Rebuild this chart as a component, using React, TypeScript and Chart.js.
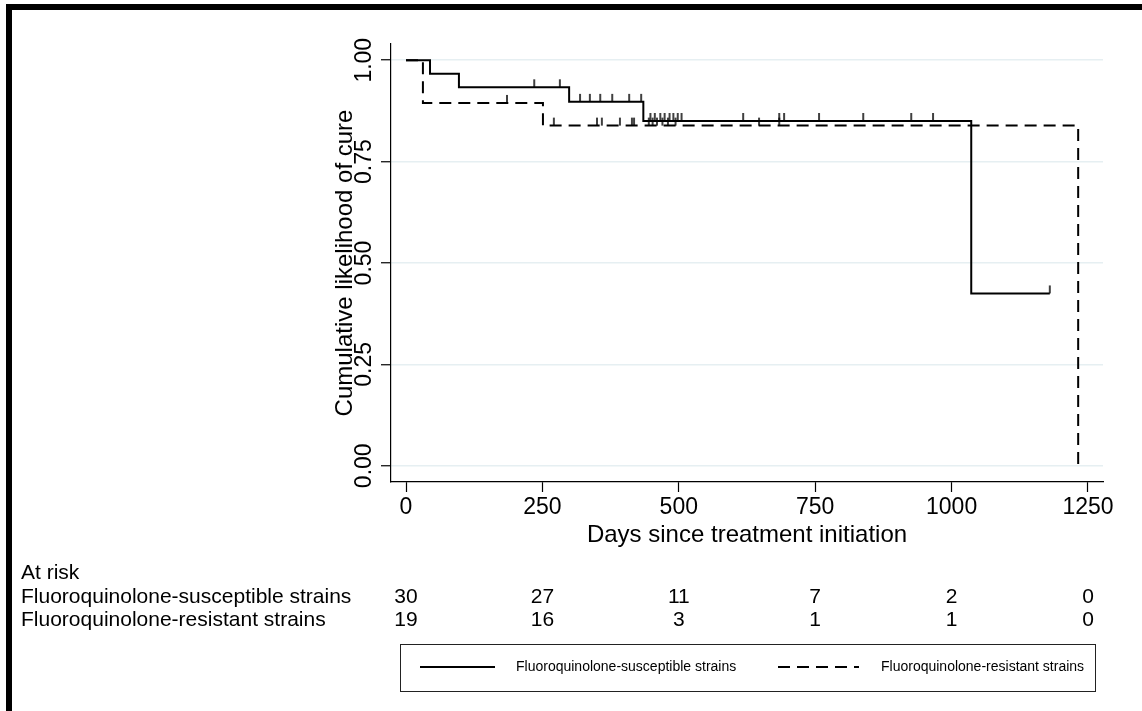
import React, { useEffect, useRef } from "react";
import { Chart, registerables } from "chart.js";

Chart.register(...registerables);

const FONT = "'Liberation Sans', Arial, Helvetica, sans-serif";

// axis ticks
const xTicks = [0, 250, 500, 750, 1000, 1250];
const yTicks = [0, 0.25, 0.5, 0.75, 1];
const yTickLabels = ["0.00", "0.25", "0.50", "0.75", "1.00"];

// Kaplan-Meier steps: Fluoroquinolone-susceptible strains
const susTimes = [0, 44, 97, 299, 435, 1036, 1180];
const susSurv = [1, 0.9667, 0.9333, 0.8974, 0.8502, 0.4251, 0.4251];

// Kaplan-Meier steps: Fluoroquinolone-resistant strains
const resTimes = [0, 31, 251, 1232, 1232];
const resSurv = [1, 0.8947, 0.8388, 0.8388, 0];

// censoring marks
const susCensorTimes = [235, 282, 319, 337, 356, 378, 409, 431, 448, 456, 466, 474, 483, 490, 498, 505, 618, 684, 693, 757, 838, 926, 966, 1180];
const susCensorSurv = [0.9333, 0.9333, 0.8974, 0.8974, 0.8974, 0.8974, 0.8974, 0.8974, 0.8502, 0.8502, 0.8502, 0.8502, 0.8502, 0.8502, 0.8502, 0.8502, 0.8502, 0.8502, 0.8502, 0.8502, 0.8502, 0.8502, 0.8502, 0.4251];
const resCensorTimes = [185, 271, 350, 359, 392, 414, 418, 445, 452, 460, 470, 480, 494, 647, 684];
const resCensorSurv = [0.8947, 0.8388, 0.8388, 0.8388, 0.8388, 0.8388, 0.8388, 0.8388, 0.8388, 0.8388, 0.8388, 0.8388, 0.8388, 0.8388, 0.8388];

// number at risk
const seriesNames = ["Fluoroquinolone-susceptible strains", "Fluoroquinolone-resistant strains"];
const atRiskSus = [30, 27, 11, 7, 2, 0];
const atRiskRes = [19, 16, 3, 1, 1, 0];

const DASH = [12, 7];

function makeCensorMark(): HTMLCanvasElement {
  const c = document.createElement("canvas");
  c.width = 4;
  c.height = 18;
  const g = c.getContext("2d")!;
  g.strokeStyle = "#000";
  g.lineWidth = 1.5;
  g.beginPath();
  g.moveTo(2, 1);
  g.lineTo(2, 9);
  g.stroke();
  return c;
}

const decorPlugin = {
  id: "decor",
  beforeDraw(chart: any) {
    const ctx = chart.ctx;
    ctx.save();
    ctx.fillStyle = "#fff";
    ctx.fillRect(0, 0, chart.width, chart.height);
    ctx.restore();
  },
  afterDraw(chart: any) {
    const ctx = chart.ctx;
    const xs = chart.scales.x;
    const ys = chart.scales.y;
    ctx.save();
    ctx.fillStyle = "#000";

    // y tick labels, rotated
    ctx.font = `23px ${FONT}`;
    ctx.textAlign = "center";
    ctx.textBaseline = "middle";
    yTicks.forEach((v, i) => {
      const py = ys.getPixelForValue(v);
      ctx.save();
      ctx.translate(365, py);
      ctx.rotate(-Math.PI / 2);
      ctx.fillText(yTickLabels[i], 0, 0);
      ctx.restore();
    });

    // outer frame (top and left)
    ctx.fillRect(6, 4, chart.width - 6, 6);
    ctx.fillRect(6, 4, 6, chart.height - 4);

    // at-risk table
    ctx.font = `21px ${FONT}`;
    ctx.textAlign = "left";
    ctx.textBaseline = "middle";
    ctx.fillText("At risk", 21, 573);
    ctx.fillText(seriesNames[0], 21, 597);
    ctx.fillText(seriesNames[1], 21, 620);
    ctx.textAlign = "center";
    xTicks.forEach((t, i) => {
      const px = xs.getPixelForValue(t);
      ctx.fillText(String(atRiskSus[i]), px, 597);
      ctx.fillText(String(atRiskRes[i]), px, 620);
    });

    // legend box
    ctx.strokeStyle = "#222";
    ctx.lineWidth = 1;
    ctx.strokeRect(400.5, 644.5, 695, 47);
    const ly = 667;
    ctx.strokeStyle = "#000";
    ctx.lineWidth = 2;
    ctx.beginPath();
    ctx.moveTo(420, ly);
    ctx.lineTo(495, ly);
    ctx.stroke();
    ctx.setLineDash(DASH);
    ctx.beginPath();
    ctx.moveTo(778, ly);
    ctx.lineTo(859, ly);
    ctx.stroke();
    ctx.setLineDash([]);
    ctx.font = `14px ${FONT}`;
    ctx.textAlign = "left";
    ctx.fillText(seriesNames[0], 516, ly);
    ctx.fillText(seriesNames[1], 881, ly);

    ctx.restore();
  },
};

export default function App() {
  const ref = useRef<HTMLCanvasElement | null>(null);

  useEffect(() => {
    if (!ref.current) return;
    const mark = makeCensorMark();
    const chart = new Chart(ref.current, {
      type: "line",
      data: {
        datasets: [
          {
            label: seriesNames[0],
            data: susTimes.map((t, i) => ({ x: t, y: susSurv[i] })),
            borderColor: "#000",
            borderWidth: 2,
            pointRadius: 0,
            stepped: true,
            fill: false,
          },
          {
            label: seriesNames[1],
            data: resTimes.map((t, i) => ({ x: t, y: resSurv[i] })),
            borderColor: "#000",
            borderWidth: 2,
            borderDash: DASH,
            pointRadius: 0,
            stepped: true,
            fill: false,
          },
          {
            type: "scatter",
            label: "censored S",
            data: susCensorTimes.map((t, i) => ({ x: t, y: susCensorSurv[i] })),
            pointStyle: mark,
            pointRadius: 5,
            showLine: false,
          } as any,
          {
            type: "scatter",
            label: "censored R",
            data: resCensorTimes.map((t, i) => ({ x: t, y: resCensorSurv[i] })),
            pointStyle: mark,
            pointRadius: 5,
            showLine: false,
          } as any,
        ],
      },
      options: {
        animation: false,
        responsive: false,
        maintainAspectRatio: false,
        layout: { padding: { left: 330.6, top: 44, right: 39, bottom: 161.6 } },
        plugins: {
          legend: { display: false },
          tooltip: { enabled: false },
        },
        scales: {
          x: {
            type: "linear",
            min: -27.5,
            max: 1277.5,
            afterBuildTicks: (s: any) => {
              s.ticks = xTicks.map((v) => ({ value: v }));
            },
            afterFit: (s: any) => {
              s.height = 67.4;
            },
            grid: {
              drawOnChartArea: false,
              drawTicks: true,
              tickLength: 10,
              tickColor: "#000",
              tickWidth: 1.2,
            },
            border: { display: true, color: "#000", width: 1.2 },
            ticks: {
              font: { family: FONT, size: 23 },
              color: "#000",
              padding: 2,
              maxRotation: 0,
              autoSkip: false,
              callback: (v: any) => String(v),
            },
            title: {
              display: true,
              text: "Days since treatment initiation",
              font: { family: FONT, size: 24 },
              color: "#000",
              padding: 0,
            },
          },
          y: {
            type: "linear",
            min: -0.04,
            max: 1.04,
            afterBuildTicks: (s: any) => {
              s.ticks = yTicks.map((v) => ({ value: v }));
            },
            afterFit: (s: any) => {
              s.width = 60.4;
            },
            grid: {
              color: "#e6eff2",
              lineWidth: 1.5,
              drawTicks: true,
              tickLength: 10,
              tickColor: "#000",
              tickWidth: 1.2,
            },
            border: { display: true, color: "#000", width: 1.2 },
            ticks: { display: false },
            title: {
              display: true,
              text: "Cumulative likelihood of cure",
              font: { family: FONT, size: 24 },
              color: "#000",
              padding: 0,
            },
          },
        },
      } as any,
      plugins: [decorPlugin],
    });
    return () => chart.destroy();
  }, []);

  return (
    <div style={{ position: "fixed", left: 0, top: 0, width: 1142, height: 711, background: "#fff" }}>
      <canvas ref={ref} width={1142} height={711} style={{ display: "block", width: 1142, height: 711 }} />
    </div>
  );
}
